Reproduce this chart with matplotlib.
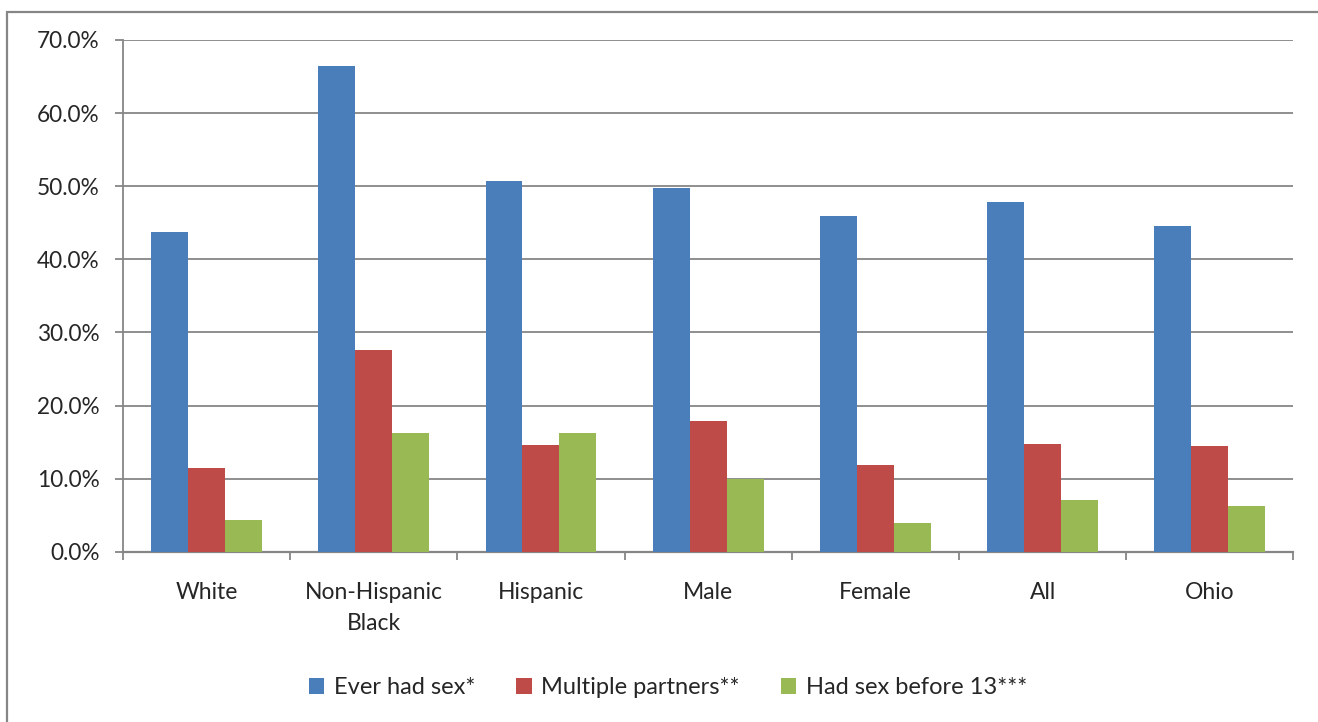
import matplotlib
matplotlib.use("Agg")
import matplotlib.pyplot as plt
from matplotlib.patches import Rectangle
from matplotlib.ticker import FixedLocator, FuncFormatter
import numpy as np

plt.rcParams['font.family'] = ['Lato', 'DejaVu Sans']

categories = ["White", "Non-Hispanic\nBlack", "Hispanic", "Male", "Female", "All", "Ohio"]
ever_had_sex = [43.7, 66.5, 50.7, 49.8, 45.9, 47.8, 44.5]
multiple_partners = [11.4, 27.6, 14.6, 17.9, 11.8, 14.8, 14.4]
sex_before_13 = [4.3, 16.3, 16.3, 10.0, 3.9, 7.1, 6.3]
series_names = ["Ever had sex*", "Multiple partners**", "Had sex before 13***"]
colors = ["#4A7EBB", "#BE4B48", "#98B954"]
y_ticks = [0, 10, 20, 30, 40, 50, 60, 70]

W, H = 1318, 722
fig = plt.figure(figsize=(W / 100, H / 100), dpi=100)
ax = fig.add_axes([122.9 / W, 1 - 551.7 / H, (1293.4 - 122.9) / W, (551.7 - 40) / H])

grid_col = "#868686"
x = np.arange(len(categories))
bw = 0.221
handles = []
for i, (vals, name, c) in enumerate(zip([ever_had_sex, multiple_partners, sex_before_13],
                                        series_names, colors)):
    h = ax.bar(x + (i - 1) * bw, vals, width=bw, color=c, label=name, zorder=3)
    handles.append(h)

ax.set_xlim(-0.5, len(categories) - 0.5)
ax.set_ylim(0, 70)
ax.yaxis.set_major_locator(FixedLocator(y_ticks))
ax.yaxis.set_major_formatter(FuncFormatter(lambda v, p: f"{v:.1f}%"))
ax.grid(axis="y", color=grid_col, linewidth=1.3, zorder=0)

ax.set_xticks(x)
ax.set_xticklabels(categories, linespacing=1.55)
ax.set_xticks(np.arange(-0.5, len(categories)), minor=True)
ax.tick_params(axis="x", which="major", length=0, pad=22, labelsize=16.5, colors="#262626")
ax.tick_params(axis="x", which="minor", length=5.8, width=1.3, color=grid_col)
ax.tick_params(axis="y", length=5.8, width=1.3, color=grid_col, pad=11, labelsize=16.3,
               labelcolor="#262626")

for side in ["top", "right"]:
    ax.spines[side].set_visible(False)
ax.spines["left"].set_color(grid_col)
ax.spines["left"].set_linewidth(1.3)
ax.spines["bottom"].set_color(grid_col)
ax.spines["bottom"].set_linewidth(1.6)

leg = fig.legend(handles=handles, labels=series_names, loc="center",
                 bbox_to_anchor=(668 / W, 1 - 688 / H), ncol=3, frameon=False,
                 fontsize=17, handlelength=0.65, handleheight=0.65, handletextpad=0.4,
                 columnspacing=1.75)
for t in leg.get_texts():
    t.set_color("#262626")

# outer chart frame
fig.patches.append(Rectangle((7 / W, -0.1), 1.2, 1 - 12 / H + 0.1, transform=fig.transFigure,
                             fill=False, edgecolor=grid_col, linewidth=1.6))

fig.savefig("out.png", dpi=100)
